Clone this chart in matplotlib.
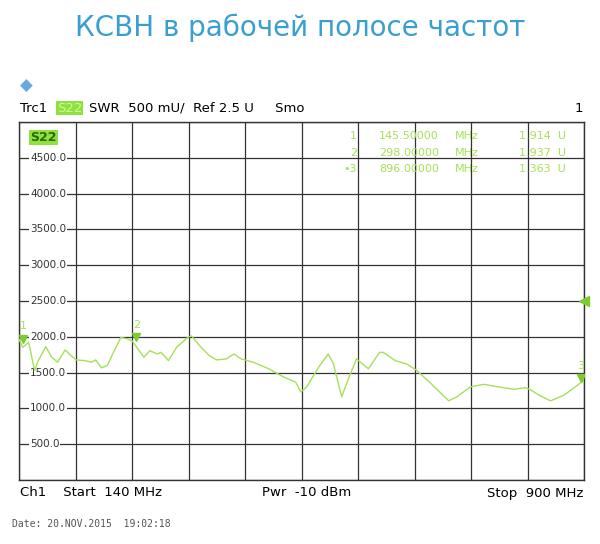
import matplotlib
matplotlib.use("Agg")
import matplotlib.pyplot as plt
import numpy as np

freq_mhz = [140,145,153,161,166,176,184,192,202,210,217,228,238,243,251,259,266,277,287,292,300,308,316,326,331,341,352,367,372,383,396,406,419,429,439,455,476,496,512,519,527,543,556,563,574,584,594,602,610,625,630,646,661,674,692,718,729,747,765,785,806,822,829,842,855,873,900]
swr_mu = [1968,1853,1922,1530,1668,1862,1714,1645,1816,1737,1677,1668,1645,1677,1567,1599,1760,1991,1968,1945,1830,1714,1806,1760,1783,1668,1853,1991,2014,1876,1737,1677,1691,1760,1691,1645,1553,1438,1369,1230,1300,1576,1760,1622,1161,1438,1691,1622,1553,1783,1783,1668,1622,1539,1369,1106,1161,1300,1336,1300,1267,1290,1253,1171,1106,1184,1392]
marker_labels = ["1", "2", "3"]
marker_freq = [145.5, 298.0, 896.0]
marker_val = [1914, 1937, 1363]
y_ticks = [500, 1000, 1500, 2000, 2500, 3000, 3500, 4000, 4500]

green = "#a6e05a"
fig = plt.figure(figsize=(6, 5.44), dpi=100)
ax = fig.add_axes([19/600, 64/544, 565/600, 358/544])
ax.set_xlim(140, 900)
ax.set_ylim(0, 5000)
ax.set_xticks(np.linspace(140, 900, 11))
ax.set_yticks(np.arange(0, 5001, 500))
ax.grid(True, color="#333333", lw=0.9)
ax.tick_params(length=0, labelleft=False, labelbottom=False)
for s in ax.spines.values():
    s.set_color("#333333"); s.set_linewidth(1.0)
ax.plot(freq_mhz, swr_mu, color=green, lw=1.0, zorder=3)
for lab, f, v in zip(marker_labels, marker_freq, marker_val):
    ax.plot(f, v + 60, marker="v", color="#7ccc30", ms=6, zorder=4)
    ax.text(f, v + 230, lab, color=green, fontsize=8, ha="center", va="center")
ax.plot(900, 2500, marker="<", color="#7ccc30", ms=7, clip_on=False, zorder=4)
for t in y_ticks:
    ax.text(155, t, f"{t:.1f}", fontsize=7.5, color="#333333", ha="left", va="center",
            bbox=dict(facecolor="white", edgecolor="none", pad=0.5), zorder=2)
ax.text(155, 4780, "S22", fontsize=9, fontweight="bold", color="#2a6a00", ha="left", va="center",
        bbox=dict(facecolor="#8fe040", edgecolor="none", pad=0.8))
rows = [("1", "145.50000", "1.914"), ("2", "298.00000", "1.937"), ("\u20223", "896.00000", "1.363")]
for i, (a, b, c) in enumerate(rows):
    yy = 4800 - i * 230
    ax.text(595, yy, a, fontsize=8, color=green, ha="right", va="center")
    ax.text(705, yy, b, fontsize=8, color=green, ha="right", va="center")
    ax.text(742, yy, "MHz", fontsize=8, color=green, ha="center", va="center")
    ax.text(876, yy, c + "  U", fontsize=8, color=green, ha="right", va="center")

fig.text(0.5, 1 - 28/544, "КСВН в рабочей полосе частот", fontsize=20, color="#3a9fd0",
         ha="center", va="center")
fig.text(20/600, 1 - 86/544, "\u25c6", fontsize=12, color="#6aa8e0", ha="left", va="center")
hy = 1 - 108/544
fig.text(20/600, hy, "Trc1", fontsize=9.5, va="center")
fig.text(57/600, hy, "S22", fontsize=9.5, va="center", color="#c8ff90",
         bbox=dict(facecolor="#8fe040", edgecolor="none", pad=0.5))
fig.text(89/600, hy, "SWR  500 mU/  Ref 2.5 U     Smo", fontsize=9.5, va="center")
fig.text(583/600, hy, "1", fontsize=9.5, va="center", ha="right")
by = 1 - 493/544
fig.text(20/600, by, "Ch1    Start  140 MHz", fontsize=9.5, va="center")
fig.text(262/600, by, "Pwr  -10 dBm", fontsize=9.5, va="center")
fig.text(583/600, by, "Stop  900 MHz", fontsize=9.5, va="center", ha="right")
fig.text(12/600, 1 - 524/544, "Date: 20.NOV.2015  19:02:18", fontsize=7, family="DejaVu Sans Mono",
         color="#555555", va="center")
fig.savefig("out.png", dpi=100)
